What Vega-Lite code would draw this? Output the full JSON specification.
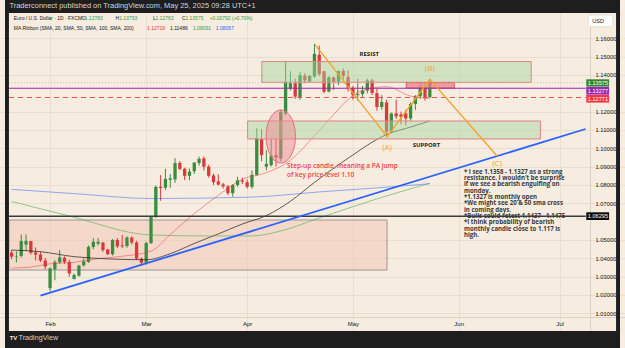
{
  "$schema": "https://vega.github.io/schema/vega-lite/v6.json",
  "width": 625,
  "height": 348,
  "autosize": {"type": "none"},
  "padding": 0,
  "background": "#f6ecdf",
  "config": {"view": {"stroke": null}, "text": {"font": "Liberation Sans"}},
  "datasets": {
    "candles": [
      {"i": -8, "o": 1.0431, "h": 1.0445, "l": 1.0395, "c": 1.0409},
      {"i": -7, "o": 1.0410, "h": 1.0438, "l": 1.0378, "c": 1.0413},
      {"i": -6, "o": 1.0413, "h": 1.0530, "l": 1.0405, "c": 1.0494},
      {"i": -5, "o": 1.0475, "h": 1.0530, "l": 1.0440, "c": 1.0495},
      {"i": -4, "o": 1.0494, "h": 1.0495, "l": 1.0420, "c": 1.0430},
      {"i": -3, "o": 1.0432, "h": 1.0459, "l": 1.0388, "c": 1.0420},
      {"i": -2, "o": 1.0420, "h": 1.0436, "l": 1.0380, "c": 1.0388},
      {"i": -1, "o": 1.0388, "h": 1.0402, "l": 1.0340, "c": 1.0355},
      {"i": 0, "o": 1.0237, "h": 1.0350, "l": 1.0220, "c": 1.0345},
      {"i": 1, "o": 1.0340, "h": 1.0390, "l": 1.0280, "c": 1.0380},
      {"i": 2, "o": 1.0378, "h": 1.0445, "l": 1.0370, "c": 1.0405},
      {"i": 3, "o": 1.0403, "h": 1.0410, "l": 1.0370, "c": 1.0380},
      {"i": 4, "o": 1.0380, "h": 1.0392, "l": 1.0300, "c": 1.0318},
      {"i": 5, "o": 1.0287, "h": 1.0318, "l": 1.0285, "c": 1.0309},
      {"i": 6, "o": 1.0305, "h": 1.0365, "l": 1.0300, "c": 1.0360},
      {"i": 7, "o": 1.0362, "h": 1.0400, "l": 1.0355, "c": 1.0383},
      {"i": 8, "o": 1.0380, "h": 1.0470, "l": 1.0375, "c": 1.0462},
      {"i": 9, "o": 1.0462, "h": 1.0510, "l": 1.0450, "c": 1.0490},
      {"i": 10, "o": 1.0480, "h": 1.0510, "l": 1.0470, "c": 1.0490},
      {"i": 11, "o": 1.0485, "h": 1.0490, "l": 1.0435, "c": 1.0445},
      {"i": 12, "o": 1.0448, "h": 1.0452, "l": 1.0418, "c": 1.0422},
      {"i": 13, "o": 1.0422, "h": 1.0505, "l": 1.0415, "c": 1.0500},
      {"i": 14, "o": 1.0500, "h": 1.0510, "l": 1.0455, "c": 1.0465},
      {"i": 15, "o": 1.0470, "h": 1.0528, "l": 1.0455, "c": 1.0465},
      {"i": 16, "o": 1.0467, "h": 1.0520, "l": 1.0458, "c": 1.0513},
      {"i": 17, "o": 1.0513, "h": 1.0520, "l": 1.0475, "c": 1.0486},
      {"i": 18, "o": 1.0486, "h": 1.0496, "l": 1.0392, "c": 1.0398},
      {"i": 19, "o": 1.0398, "h": 1.0405, "l": 1.0360, "c": 1.0375},
      {"i": 20, "o": 1.0375, "h": 1.0490, "l": 1.0365, "c": 1.0483},
      {"i": 21, "o": 1.0483, "h": 1.0632, "l": 1.0478, "c": 1.0626},
      {"i": 22, "o": 1.0625, "h": 1.0797, "l": 1.0620, "c": 1.0790},
      {"i": 23, "o": 1.0790, "h": 1.0854, "l": 1.0714, "c": 1.0783},
      {"i": 24, "o": 1.0785, "h": 1.0888, "l": 1.0773, "c": 1.0833},
      {"i": 25, "o": 1.0828, "h": 1.0860, "l": 1.0785, "c": 1.0836},
      {"i": 26, "o": 1.0830, "h": 1.0947, "l": 1.0812, "c": 1.0920},
      {"i": 27, "o": 1.0920, "h": 1.0930, "l": 1.0880, "c": 1.0888},
      {"i": 28, "o": 1.0888, "h": 1.0895, "l": 1.0827, "c": 1.0850},
      {"i": 29, "o": 1.0850, "h": 1.0890, "l": 1.0825, "c": 1.0873},
      {"i": 30, "o": 1.0875, "h": 1.0925, "l": 1.0860, "c": 1.0922},
      {"i": 31, "o": 1.0920, "h": 1.0955, "l": 1.0905, "c": 1.0943},
      {"i": 32, "o": 1.0945, "h": 1.0955, "l": 1.0880, "c": 1.0900},
      {"i": 33, "o": 1.0900, "h": 1.0910, "l": 1.0840, "c": 1.0850},
      {"i": 34, "o": 1.0852, "h": 1.0862, "l": 1.0800, "c": 1.0815},
      {"i": 35, "o": 1.0820, "h": 1.0858, "l": 1.0798, "c": 1.0802},
      {"i": 36, "o": 1.0803, "h": 1.0812, "l": 1.0780, "c": 1.0792},
      {"i": 37, "o": 1.0792, "h": 1.0800, "l": 1.0745, "c": 1.0755},
      {"i": 38, "o": 1.0755, "h": 1.0805, "l": 1.0736, "c": 1.0800},
      {"i": 39, "o": 1.0800, "h": 1.0845, "l": 1.0790, "c": 1.0825},
      {"i": 40, "o": 1.0825, "h": 1.0840, "l": 1.0805, "c": 1.0818},
      {"i": 41, "o": 1.0815, "h": 1.0830, "l": 1.0780, "c": 1.0790},
      {"i": 42, "o": 1.0790, "h": 1.0880, "l": 1.0780, "c": 1.0855},
      {"i": 43, "o": 1.0855, "h": 1.1110, "l": 1.0850, "c": 1.1055},
      {"i": 44, "o": 1.1050, "h": 1.1105, "l": 1.0930, "c": 1.0963},
      {"i": 45, "o": 1.0900, "h": 1.0990, "l": 1.0880, "c": 1.0915},
      {"i": 46, "o": 1.0908, "h": 1.1050, "l": 1.0900, "c": 1.0960},
      {"i": 47, "o": 1.0962, "h": 1.1050, "l": 1.0900, "c": 1.0950},
      {"i": 48, "o": 1.0945, "h": 1.1210, "l": 1.0930, "c": 1.1199},
      {"i": 49, "o": 1.1190, "h": 1.1473, "l": 1.1180, "c": 1.1363},
      {"i": 50, "o": 1.1325, "h": 1.1420, "l": 1.1315, "c": 1.1355},
      {"i": 51, "o": 1.1355, "h": 1.1380, "l": 1.1270, "c": 1.1282},
      {"i": 52, "o": 1.1280, "h": 1.1418, "l": 1.1265, "c": 1.1399},
      {"i": 53, "o": 1.1395, "h": 1.1410, "l": 1.1355, "c": 1.1370},
      {"i": 54, "o": 1.1365, "h": 1.1400, "l": 1.1360, "c": 1.1395},
      {"i": 55, "o": 1.1392, "h": 1.1570, "l": 1.1385, "c": 1.1515},
      {"i": 56, "o": 1.1510, "h": 1.1560, "l": 1.1395, "c": 1.1405},
      {"i": 57, "o": 1.1420, "h": 1.1425, "l": 1.1300, "c": 1.1309},
      {"i": 58, "o": 1.1310, "h": 1.1395, "l": 1.1305, "c": 1.1387},
      {"i": 59, "o": 1.1387, "h": 1.1390, "l": 1.1318, "c": 1.1363},
      {"i": 60, "o": 1.1363, "h": 1.1425, "l": 1.1345, "c": 1.1421},
      {"i": 61, "o": 1.1422, "h": 1.1435, "l": 1.1375, "c": 1.1395},
      {"i": 62, "o": 1.1390, "h": 1.1425, "l": 1.1310, "c": 1.1330},
      {"i": 63, "o": 1.1330, "h": 1.1340, "l": 1.1265, "c": 1.1290},
      {"i": 64, "o": 1.1290, "h": 1.1380, "l": 1.1260, "c": 1.1296},
      {"i": 65, "o": 1.1296, "h": 1.1340, "l": 1.1275, "c": 1.1315},
      {"i": 66, "o": 1.1315, "h": 1.1380, "l": 1.1300, "c": 1.1370},
      {"i": 67, "o": 1.1370, "h": 1.1380, "l": 1.1290, "c": 1.1302},
      {"i": 68, "o": 1.1300, "h": 1.1325, "l": 1.1205, "c": 1.1225},
      {"i": 69, "o": 1.1225, "h": 1.1290, "l": 1.1210, "c": 1.1253},
      {"i": 70, "o": 1.1250, "h": 1.1265, "l": 1.1065, "c": 1.1090},
      {"i": 71, "o": 1.1092, "h": 1.1195, "l": 1.1083, "c": 1.1190},
      {"i": 72, "o": 1.1190, "h": 1.1265, "l": 1.1160, "c": 1.1174},
      {"i": 73, "o": 1.1185, "h": 1.1200, "l": 1.1130, "c": 1.1172},
      {"i": 74, "o": 1.1190, "h": 1.1210, "l": 1.1125, "c": 1.1163},
      {"i": 75, "o": 1.1163, "h": 1.1250, "l": 1.1150, "c": 1.1242},
      {"i": 76, "o": 1.1242, "h": 1.1290, "l": 1.1210, "c": 1.1284},
      {"i": 77, "o": 1.1284, "h": 1.1360, "l": 1.1270, "c": 1.1330},
      {"i": 78, "o": 1.1330, "h": 1.1345, "l": 1.1260, "c": 1.1280},
      {"i": 79, "o": 1.12783, "h": 1.13753, "l": 1.12763, "c": 1.13575}
    ],
    "ma": [
      {"ma": "SMA20", "i": -8, "v": 1.0347}, {"ma": "SMA20", "i": -4, "v": 1.0352}, {"ma": "SMA20", "i": 0, "v": 1.0370},
      {"ma": "SMA20", "i": 5, "v": 1.0378}, {"ma": "SMA20", "i": 10, "v": 1.0398}, {"ma": "SMA20", "i": 15, "v": 1.0411},
      {"ma": "SMA20", "i": 21, "v": 1.0439}, {"ma": "SMA20", "i": 25, "v": 1.0530}, {"ma": "SMA20", "i": 30, "v": 1.0644},
      {"ma": "SMA20", "i": 35, "v": 1.0744}, {"ma": "SMA20", "i": 40, "v": 1.0831}, {"ma": "SMA20", "i": 45, "v": 1.0867},
      {"ma": "SMA20", "i": 50, "v": 1.0935}, {"ma": "SMA20", "i": 55, "v": 1.1068}, {"ma": "SMA20", "i": 60, "v": 1.1213},
      {"ma": "SMA20", "i": 62, "v": 1.1267}, {"ma": "SMA20", "i": 65, "v": 1.1315}, {"ma": "SMA20", "i": 70, "v": 1.1336},
      {"ma": "SMA20", "i": 75, "v": 1.1285}, {"ma": "SMA20", "i": 79, "v": 1.12719},
      {"ma": "SMA50", "i": -8, "v": 1.0445}, {"ma": "SMA50", "i": -2, "v": 1.0436}, {"ma": "SMA50", "i": 5, "v": 1.0409},
      {"ma": "SMA50", "i": 12, "v": 1.0397}, {"ma": "SMA50", "i": 20, "v": 1.0392}, {"ma": "SMA50", "i": 25, "v": 1.0425},
      {"ma": "SMA50", "i": 30, "v": 1.0481}, {"ma": "SMA50", "i": 35, "v": 1.0533}, {"ma": "SMA50", "i": 40, "v": 1.0587},
      {"ma": "SMA50", "i": 45, "v": 1.0633}, {"ma": "SMA50", "i": 50, "v": 1.0711}, {"ma": "SMA50", "i": 55, "v": 1.0814},
      {"ma": "SMA50", "i": 62, "v": 1.0946}, {"ma": "SMA50", "i": 70, "v": 1.1075}, {"ma": "SMA50", "i": 75, "v": 1.1116},
      {"ma": "SMA50", "i": 79, "v": 1.11486},
      {"ma": "SMA100", "i": -8, "v": 1.0710}, {"ma": "SMA100", "i": 4, "v": 1.0631}, {"ma": "SMA100", "i": 21, "v": 1.0527},
      {"ma": "SMA100", "i": 32, "v": 1.0522}, {"ma": "SMA100", "i": 42, "v": 1.0522}, {"ma": "SMA100", "i": 48, "v": 1.0549},
      {"ma": "SMA100", "i": 56, "v": 1.0620}, {"ma": "SMA100", "i": 68, "v": 1.0724}, {"ma": "SMA100", "i": 79, "v": 1.08091},
      {"ma": "SMA200", "i": -8, "v": 1.0776}, {"ma": "SMA200", "i": 6, "v": 1.0751}, {"ma": "SMA200", "i": 21, "v": 1.0726},
      {"ma": "SMA200", "i": 42, "v": 1.0734}, {"ma": "SMA200", "i": 56, "v": 1.0762}, {"ma": "SMA200", "i": 68, "v": 1.0784},
      {"ma": "SMA200", "i": 79, "v": 1.08067}
    ],
    "zones": [
      {"kind": "box", "x1": -8.55, "x2": 70.1, "y1": 1.0336, "y2": 1.0609},
      {"kind": "green", "x1": 44.05, "x2": 100.1, "y1": 1.1360, "y2": 1.1473},
      {"kind": "green", "x1": 41.1, "x2": 102.0, "y1": 1.1051, "y2": 1.1149},
      {"kind": "red", "x1": 74.1, "x2": 84.1, "y1": 1.1329, "y2": 1.1358}
    ],
    "hlines": [
      {"kind": "last", "p": 1.13575, "x1": -8.55, "x2": 111.45},
      {"kind": "purple", "p": 1.13277, "x1": -8.55, "x2": 111.45},
      {"kind": "reddash", "p": 1.12771, "x1": -8.55, "x2": 111.45},
      {"kind": "black", "p": 1.06295, "x1": -8.55, "x2": 111.45}
    ],
    "ellipse": [{"i": 48.0, "p": 1.10644}],
    "trend": [{"i": -2.0, "p": 1.0196}, {"i": 111.4, "p": 1.11053}],
    "zigzag": [
      {"k": 0, "i": 55.1, "p": 1.15673},
      {"k": 1, "i": 70.1, "p": 1.10633},
      {"k": 2, "i": 79.0, "p": 1.13764},
      {"k": 3, "i": 93.0, "p": 1.0958}
    ],
    "labels": [
      {"kind": "zone", "i": 66.4, "p": 1.1517, "t": "RESIST"},
      {"kind": "zone", "i": 78.3, "p": 1.1018, "t": "SUPPORT"},
      {"kind": "abc", "i": 70.1, "p": 1.1000, "t": "(A)"},
      {"kind": "abc", "i": 79.0, "p": 1.1431, "t": "(B)"},
      {"kind": "abc", "i": 93.0, "p": 1.0916, "t": "(C)"},
      {"kind": "red", "i": 49.3, "p": 1.09177, "t": "Step-up candle, meaning a PA jump\nof key price level 1.10"},
      {"kind": "note", "i": 86.1, "p": 1.08898, "t": "* I see 1.1358 - 1.1327 as a strong\nresistance. I wouldn't be surprise\nif we see a bearish engulfing on\nmonday.\n*1.1327 is monthly open\n*We might see 20 & 50 sma cross\nin coming days.\n*Bulls could retest 1.1437 - 1.1475\n*I think probability of bearish\nmonthly candle close to 1.117 is\nhigh."}
    ],
    "legend": [
      {"kind": "dark", "i": -7.53, "p": 1.17091, "t": "Euro / U.S. Dollar · 1D · FXCM"},
      {"kind": "dark", "i": 6.6, "p": 1.17091, "t": "O"},
      {"kind": "green", "i": 7.2, "p": 1.17091, "t": "1.12783"},
      {"kind": "dark", "i": 13.61, "p": 1.17091, "t": "H"},
      {"kind": "green", "i": 14.37, "p": 1.17091, "t": "1.13753"},
      {"kind": "dark", "i": 21.39, "p": 1.17091, "t": "L"},
      {"kind": "green", "i": 21.94, "p": 1.17091, "t": "1.12763"},
      {"kind": "dark", "i": 27.47, "p": 1.17091, "t": "C"},
      {"kind": "green", "i": 28.15, "p": 1.17091, "t": "1.13575"},
      {"kind": "green", "i": 33.2, "p": 1.17091, "t": "+0.00792 (+0.70%)"},
      {"kind": "dark", "i": -7.53, "p": 1.16545, "t": "MA Ribbon (SMA, 20, SMA, 50, SMA, 100, SMA, 200)"},
      {"kind": "red", "i": 20.16, "p": 1.16545, "t": "1.12719"},
      {"kind": "dark", "i": 24.95, "p": 1.16545, "t": "1.11486"},
      {"kind": "green", "i": 29.72, "p": 1.16545, "t": "1.08091"},
      {"kind": "blue", "i": 34.49, "p": 1.16545, "t": "1.08067"}
    ],
    "tags": [
      {"kind": "green", "x1": 111.55, "x2": 116.3, "y1": 1.13366, "y2": 1.13764, "tp": 1.13575, "t": "1.13575"},
      {"kind": "purple", "x1": 111.55, "x2": 116.3, "y1": 1.12929, "y2": 1.13344, "tp": 1.13137, "t": "1.13277"},
      {"kind": "red", "x1": 111.55, "x2": 116.3, "y1": 1.12493, "y2": 1.12908, "tp": 1.12700, "t": "1.12771"},
      {"kind": "black", "x1": 111.55, "x2": 116.3, "y1": 1.06089, "y2": 1.06509, "tp": 1.06297, "t": "1.06295"}
    ],
    "usd": [{"x1": 111.96, "x2": 117.07, "y1": 1.16633, "y2": 1.17271, "tp": 1.16952, "t": "USD"}],
    "frame": [
      {"x1": -9.3756, "x2": 118.567, "y1": 1.173803, "y2": 1.180894},
      {"x1": -9.3756, "x2": 118.567, "y1": 0.991072, "y2": 1.000345},
      {"x1": -9.3756, "x2": -8.5568, "y1": 0.991072, "y2": 1.180894},
      {"x1": 117.748, "x2": 118.567, "y1": 0.991072, "y2": 1.180894}
    ],
    "frameText": [
      {"kind": "pub", "i": -8.45, "p": 1.17762, "t": "Traderconnect published on TradingView.com, May 25, 2025 09:28 UTC+1"},
      {"kind": "tv", "i": -6.55, "p": 0.99653, "t": "TradingView"},
      {"kind": "logo", "i": -8.4, "p": 0.99653, "t": "TV"}
    ]
  },
  "layer": [
    {
      "data": {"name": "zones"},
      "transform": [{"filter": "datum.kind == 'box'"}],
      "mark": {"type": "rect", "fill": "#f2c4b6", "fillOpacity": 0.5, "stroke": "#9a9692", "strokeWidth": 1},
      "encoding": {
        "x": {"field": "x1", "type": "quantitative", "scale": {"domain": [-9.3756, 118.567], "nice": false, "zero": false},
          "axis": {"values": [0, 20, 41, 63, 85, 106], "labelExpr": "datum.value == 0 ? 'Feb' : datum.value == 20 ? 'Mar' : datum.value == 41 ? 'Apr' : datum.value == 63 ? 'May' : datum.value == 85 ? 'Jun' : 'Jul'",
            "offset": -31, "grid": true, "gridColor": "#e9dfd0", "domainColor": "#ddd2c2", "ticks": false,
            "labelFontSize": 6, "labelColor": "#131722", "labelPadding": 3, "labelFont": "Liberation Sans", "title": null}},
        "x2": {"field": "x2"},
        "y": {"field": "y1", "type": "quantitative", "scale": {"domain": [0.991072, 1.180894], "nice": false, "zero": false},
          "axis": {"orient": "right", "offset": -35, "values": [1.01, 1.02, 1.03, 1.04, 1.05, 1.07, 1.08, 1.09, 1.1, 1.11, 1.12, 1.14, 1.15, 1.16],
            "format": ".5f", "grid": true, "gridColor": "#e9dfd0", "domainColor": "#ddd2c2", "ticks": false,
            "labelFontSize": 5.8, "labelColor": "#131722", "labelPadding": 5, "labelFont": "Liberation Sans", "title": null}},
        "y2": {"field": "y2"}
      }
    },
    {
      "data": {"name": "candles"},
      "mark": {"type": "rule", "strokeWidth": 1},
      "encoding": {
        "x": {"field": "i", "type": "quantitative", "scale": {"domain": [-9.3756, 118.567], "nice": false, "zero": false}, "axis": null},
        "y": {"field": "l", "type": "quantitative", "scale": {"domain": [0.991072, 1.180894], "nice": false, "zero": false}, "axis": null},
        "y2": {"field": "h"},
        "color": {"condition": {"test": "datum.c >= datum.o", "value": "#3a8d3f"}, "value": "#d83a3a"}
      }
    },
    {
      "data": {"name": "candles"},
      "mark": {"type": "bar", "size": 3.3},
      "encoding": {
        "x": {"field": "i", "type": "quantitative", "scale": {"domain": [-9.3756, 118.567], "nice": false, "zero": false}, "axis": null},
        "y": {"field": "o", "type": "quantitative", "scale": {"domain": [0.991072, 1.180894], "nice": false, "zero": false}, "axis": null},
        "y2": {"field": "c"},
        "color": {"condition": {"test": "datum.c >= datum.o", "value": "#3a8d3f"}, "value": "#d83a3a"}
      }
    },
    {
      "data": {"name": "ma"},
      "mark": {"type": "line", "strokeWidth": 1, "interpolate": "monotone"},
      "encoding": {
        "x": {"field": "i", "type": "quantitative", "scale": {"domain": [-9.3756, 118.567], "nice": false, "zero": false}, "axis": null},
        "y": {"field": "v", "type": "quantitative", "scale": {"domain": [0.991072, 1.180894], "nice": false, "zero": false}, "axis": null},
        "color": {"field": "ma", "type": "nominal", "legend": null,
          "scale": {"domain": ["SMA20", "SMA50", "SMA100", "SMA200"], "range": ["rgba(242,54,69,0.5)", "rgba(30,30,30,0.7)", "rgba(76,175,80,0.6)", "rgba(41,98,255,0.5)"]}}
      }
    },
    {
      "data": {"name": "zones"},
      "transform": [{"filter": "datum.kind == 'green'"}],
      "mark": {"type": "rect", "fill": "#a5d6a0", "fillOpacity": 0.45, "stroke": "#e08383", "strokeWidth": 1},
      "encoding": {
        "x": {"field": "x1", "type": "quantitative", "scale": {"domain": [-9.3756, 118.567], "nice": false, "zero": false}, "axis": null},
        "x2": {"field": "x2"},
        "y": {"field": "y1", "type": "quantitative", "scale": {"domain": [0.991072, 1.180894], "nice": false, "zero": false}, "axis": null},
        "y2": {"field": "y2"}
      }
    },
    {
      "data": {"name": "zones"},
      "transform": [{"filter": "datum.kind == 'red'"}],
      "mark": {"type": "rect", "fill": "#f07f86", "fillOpacity": 0.75, "stroke": "#e05a62", "strokeWidth": 1},
      "encoding": {
        "x": {"field": "x1", "type": "quantitative", "scale": {"domain": [-9.3756, 118.567], "nice": false, "zero": false}, "axis": null},
        "x2": {"field": "x2"},
        "y": {"field": "y1", "type": "quantitative", "scale": {"domain": [0.991072, 1.180894], "nice": false, "zero": false}, "axis": null},
        "y2": {"field": "y2"}
      }
    },
    {
      "data": {"name": "hlines"},
      "transform": [{"filter": "datum.kind == 'last'"}],
      "mark": {"type": "rule", "stroke": "#b9c4a8", "strokeWidth": 1, "strokeDash": [1, 2]},
      "encoding": {
        "x": {"field": "x1", "type": "quantitative", "scale": {"domain": [-9.3756, 118.567], "nice": false, "zero": false}, "axis": null},
        "x2": {"field": "x2"},
        "y": {"field": "p", "type": "quantitative", "scale": {"domain": [0.991072, 1.180894], "nice": false, "zero": false}, "axis": null}
      }
    },
    {
      "data": {"name": "hlines"},
      "transform": [{"filter": "datum.kind == 'purple'"}],
      "mark": {"type": "rule", "stroke": "#9c27b0", "strokeWidth": 1.2},
      "encoding": {
        "x": {"field": "x1", "type": "quantitative", "scale": {"domain": [-9.3756, 118.567], "nice": false, "zero": false}, "axis": null},
        "x2": {"field": "x2"},
        "y": {"field": "p", "type": "quantitative", "scale": {"domain": [0.991072, 1.180894], "nice": false, "zero": false}, "axis": null}
      }
    },
    {
      "data": {"name": "hlines"},
      "transform": [{"filter": "datum.kind == 'reddash'"}],
      "mark": {"type": "rule", "stroke": "#f0505a", "strokeWidth": 1, "strokeDash": [5, 4]},
      "encoding": {
        "x": {"field": "x1", "type": "quantitative", "scale": {"domain": [-9.3756, 118.567], "nice": false, "zero": false}, "axis": null},
        "x2": {"field": "x2"},
        "y": {"field": "p", "type": "quantitative", "scale": {"domain": [0.991072, 1.180894], "nice": false, "zero": false}, "axis": null}
      }
    },
    {
      "data": {"name": "hlines"},
      "transform": [{"filter": "datum.kind == 'black'"}],
      "mark": {"type": "rule", "stroke": "#3c3c3c", "strokeWidth": 1.5},
      "encoding": {
        "x": {"field": "x1", "type": "quantitative", "scale": {"domain": [-9.3756, 118.567], "nice": false, "zero": false}, "axis": null},
        "x2": {"field": "x2"},
        "y": {"field": "p", "type": "quantitative", "scale": {"domain": [0.991072, 1.180894], "nice": false, "zero": false}, "axis": null}
      }
    },
    {
      "data": {"name": "ellipse"},
      "mark": {"type": "point", "shape": "M0,-1A0.553,1,0,1,1,0,1A0.553,1,0,1,1,0,-1Z", "size": 2809, "filled": true, "fill": "#f08a96", "fillOpacity": 0.5, "stroke": "#e36b78", "strokeWidth": 1, "opacity": 1},
      "encoding": {
        "x": {"field": "i", "type": "quantitative", "scale": {"domain": [-9.3756, 118.567], "nice": false, "zero": false}, "axis": null},
        "y": {"field": "p", "type": "quantitative", "scale": {"domain": [0.991072, 1.180894], "nice": false, "zero": false}, "axis": null}
      }
    },
    {
      "data": {"name": "trend"},
      "mark": {"type": "line", "stroke": "#2962ff", "strokeWidth": 1.8},
      "encoding": {
        "x": {"field": "i", "type": "quantitative", "scale": {"domain": [-9.3756, 118.567], "nice": false, "zero": false}, "axis": null},
        "y": {"field": "p", "type": "quantitative", "scale": {"domain": [0.991072, 1.180894], "nice": false, "zero": false}, "axis": null}
      }
    },
    {
      "data": {"name": "zigzag"},
      "mark": {"type": "line", "stroke": "#f5a12a", "strokeWidth": 1.3},
      "encoding": {
        "x": {"field": "i", "type": "quantitative", "scale": {"domain": [-9.3756, 118.567], "nice": false, "zero": false}, "axis": null},
        "y": {"field": "p", "type": "quantitative", "scale": {"domain": [0.991072, 1.180894], "nice": false, "zero": false}, "axis": null},
        "order": {"field": "k", "type": "quantitative"}
      }
    },
    {
      "data": {"name": "labels"},
      "transform": [{"filter": "datum.kind == 'zone'"}],
      "mark": {"type": "text", "align": "center", "baseline": "middle", "fontSize": 6, "fontWeight": "bold", "color": "#1e1e1e", "font": "Open Sans"},
      "encoding": {
        "x": {"field": "i", "type": "quantitative", "scale": {"domain": [-9.3756, 118.567], "nice": false, "zero": false}, "axis": null},
        "y": {"field": "p", "type": "quantitative", "scale": {"domain": [0.991072, 1.180894], "nice": false, "zero": false}, "axis": null},
        "text": {"field": "t"}
      }
    },
    {
      "data": {"name": "labels"},
      "transform": [{"filter": "datum.kind == 'abc'"}],
      "mark": {"type": "text", "align": "center", "baseline": "middle", "fontSize": 8, "color": "#f5a12a", "font": "Open Sans"},
      "encoding": {
        "x": {"field": "i", "type": "quantitative", "scale": {"domain": [-9.3756, 118.567], "nice": false, "zero": false}, "axis": null},
        "y": {"field": "p", "type": "quantitative", "scale": {"domain": [0.991072, 1.180894], "nice": false, "zero": false}, "axis": null},
        "text": {"field": "t"}
      }
    },
    {
      "data": {"name": "labels"},
      "transform": [{"filter": "datum.kind == 'red'"}],
      "mark": {"type": "text", "align": "left", "baseline": "top", "fontSize": 6.5, "fontWeight": 600, "color": "#f0404e", "font": "Open Sans", "lineBreak": "\n", "lineHeight": 8.3},
      "encoding": {
        "x": {"field": "i", "type": "quantitative", "scale": {"domain": [-9.3756, 118.567], "nice": false, "zero": false}, "axis": null},
        "y": {"field": "p", "type": "quantitative", "scale": {"domain": [0.991072, 1.180894], "nice": false, "zero": false}, "axis": null},
        "text": {"field": "t"}
      }
    },
    {
      "data": {"name": "labels"},
      "transform": [{"filter": "datum.kind == 'note'"}],
      "mark": {"type": "text", "align": "left", "baseline": "top", "fontSize": 6.1, "fontWeight": "bold", "color": "#3a3a3a", "font": "Open Sans", "lineBreak": "\n", "lineHeight": 6.35},
      "encoding": {
        "x": {"field": "i", "type": "quantitative", "scale": {"domain": [-9.3756, 118.567], "nice": false, "zero": false}, "axis": null},
        "y": {"field": "p", "type": "quantitative", "scale": {"domain": [0.991072, 1.180894], "nice": false, "zero": false}, "axis": null},
        "text": {"field": "t"}
      }
    },
    {
      "data": {"name": "tags"},
      "mark": {"type": "rect"},
      "encoding": {
        "x": {"field": "x1", "type": "quantitative", "scale": {"domain": [-9.3756, 118.567], "nice": false, "zero": false}, "axis": null},
        "x2": {"field": "x2"},
        "y": {"field": "y1", "type": "quantitative", "scale": {"domain": [0.991072, 1.180894], "nice": false, "zero": false}, "axis": null},
        "y2": {"field": "y2"},
        "color": {"field": "kind", "type": "nominal", "legend": null,
          "scale": {"domain": ["green", "purple", "red", "black"], "range": ["#2f8a36", "#9c27b0", "#f23645", "#0c0c0c"]}}
      }
    },
    {
      "data": {"name": "tags"},
      "mark": {"type": "text", "align": "left", "baseline": "middle", "fontSize": 5.6, "color": "#ffffff"},
      "encoding": {
        "x": {"field": "x1", "type": "quantitative", "scale": {"domain": [-9.3756, 118.567], "nice": false, "zero": false}, "axis": null},
        "y": {"field": "tp", "type": "quantitative", "scale": {"domain": [0.991072, 1.180894], "nice": false, "zero": false}, "axis": null},
        "xOffset": {"value": 1.5},
        "text": {"field": "t"}
      }
    },
    {
      "data": {"name": "usd"},
      "mark": {"type": "rect", "fill": "#ffffff", "stroke": "#e6e0d8", "cornerRadius": 2},
      "encoding": {
        "x": {"field": "x1", "type": "quantitative", "scale": {"domain": [-9.3756, 118.567], "nice": false, "zero": false}, "axis": null},
        "x2": {"field": "x2"},
        "y": {"field": "y1", "type": "quantitative", "scale": {"domain": [0.991072, 1.180894], "nice": false, "zero": false}, "axis": null},
        "y2": {"field": "y2"}
      }
    },
    {
      "data": {"name": "usd"},
      "mark": {"type": "text", "align": "left", "baseline": "middle", "fontSize": 5.6, "color": "#131722"},
      "encoding": {
        "x": {"field": "x1", "type": "quantitative", "scale": {"domain": [-9.3756, 118.567], "nice": false, "zero": false}, "axis": null},
        "y": {"field": "tp", "type": "quantitative", "scale": {"domain": [0.991072, 1.180894], "nice": false, "zero": false}, "axis": null},
        "xOffset": {"value": 4},
        "text": {"field": "t"}
      }
    },
    {
      "data": {"name": "legend"},
      "mark": {"type": "text", "align": "left", "baseline": "middle", "fontSize": 5},
      "encoding": {
        "x": {"field": "i", "type": "quantitative", "scale": {"domain": [-9.3756, 118.567], "nice": false, "zero": false}, "axis": null},
        "y": {"field": "p", "type": "quantitative", "scale": {"domain": [0.991072, 1.180894], "nice": false, "zero": false}, "axis": null},
        "text": {"field": "t"},
        "color": {"field": "kind", "type": "nominal", "legend": null,
          "scale": {"domain": ["dark", "green", "red", "blue"], "range": ["#131722", "#2e9c4a", "#f23645", "#2962ff"]}}
      }
    },
    {
      "data": {"name": "frame"},
      "mark": {"type": "rect", "fill": "#1e1e1e"},
      "encoding": {
        "x": {"field": "x1", "type": "quantitative", "scale": {"domain": [-9.3756, 118.567], "nice": false, "zero": false}, "axis": null},
        "x2": {"field": "x2"},
        "y": {"field": "y1", "type": "quantitative", "scale": {"domain": [0.991072, 1.180894], "nice": false, "zero": false}, "axis": null},
        "y2": {"field": "y2"}
      }
    },
    {
      "data": {"name": "frameText"},
      "transform": [{"filter": "datum.kind == 'pub'"}],
      "mark": {"type": "text", "align": "left", "baseline": "middle", "fontSize": 7.45, "color": "#d1d4dc"},
      "encoding": {
        "x": {"field": "i", "type": "quantitative", "scale": {"domain": [-9.3756, 118.567], "nice": false, "zero": false}, "axis": null},
        "y": {"field": "p", "type": "quantitative", "scale": {"domain": [0.991072, 1.180894], "nice": false, "zero": false}, "axis": null},
        "text": {"field": "t"}
      }
    },
    {
      "data": {"name": "frameText"},
      "transform": [{"filter": "datum.kind == 'tv'"}],
      "mark": {"type": "text", "align": "left", "baseline": "middle", "fontSize": 7.2, "color": "#d1d4dc"},
      "encoding": {
        "x": {"field": "i", "type": "quantitative", "scale": {"domain": [-9.3756, 118.567], "nice": false, "zero": false}, "axis": null},
        "y": {"field": "p", "type": "quantitative", "scale": {"domain": [0.991072, 1.180894], "nice": false, "zero": false}, "axis": null},
        "text": {"field": "t"}
      }
    },
    {
      "data": {"name": "frameText"},
      "transform": [{"filter": "datum.kind == 'logo'"}],
      "mark": {"type": "text", "align": "left", "baseline": "middle", "fontSize": 6, "fontWeight": "bold", "color": "#f0f0f0"},
      "encoding": {
        "x": {"field": "i", "type": "quantitative", "scale": {"domain": [-9.3756, 118.567], "nice": false, "zero": false}, "axis": null},
        "y": {"field": "p", "type": "quantitative", "scale": {"domain": [0.991072, 1.180894], "nice": false, "zero": false}, "axis": null},
        "text": {"field": "t"}
      }
    }
  ],
  "resolve": {"scale": {"color": "independent"}, "axis": {"x": "independent", "y": "independent"}}
}
